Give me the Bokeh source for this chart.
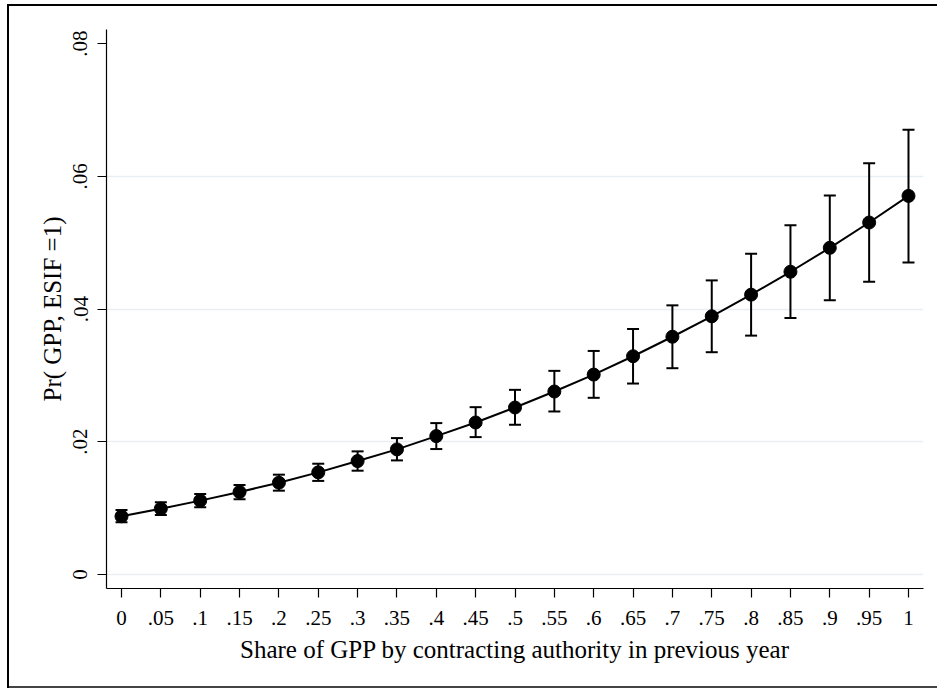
from bokeh.plotting import figure
from bokeh.models import Range1d, FixedTicker, ColumnDataSource, Whisker, TeeHead
from bokeh.embed import file_html
from bokeh.resources import INLINE

# ---- data ----
share = [0, .05, .1, .15, .2, .25, .3, .35, .4, .45, .5,
         .55, .6, .65, .7, .75, .8, .85, .9, .95, 1]
margin = [0.00877, 0.00992, 0.01113, 0.01243, 0.01383, 0.01539, 0.01709,
          0.01885, 0.02085, 0.02290, 0.02516, 0.02757, 0.03012, 0.03288,
          0.03582, 0.03890, 0.04216, 0.04561, 0.04922, 0.05303, 0.05704]
ci_low = [0.00787, 0.00897, 0.01012, 0.01133, 0.01263, 0.01410, 0.01564,
          0.01719, 0.01890, 0.02070, 0.02256, 0.02456, 0.02662, 0.02877,
          0.03108, 0.03349, 0.03599, 0.03865, 0.04131, 0.04410, 0.04702]
ci_high = [0.00973, 0.01088, 0.01213, 0.01348, 0.01504, 0.01669, 0.01855,
           0.02055, 0.02281, 0.02521, 0.02782, 0.03068, 0.03368, 0.03699,
           0.04055, 0.04431, 0.04832, 0.05263, 0.05710, 0.06195, 0.06702]

x_ticks = [0, .05, .1, .15, .2, .25, .3, .35, .4, .45, .5,
           .55, .6, .65, .7, .75, .8, .85, .9, .95, 1]
x_tick_labels = ["0", ".05", ".1", ".15", ".2", ".25", ".3", ".35", ".4", ".45", ".5",
                 ".55", ".6", ".65", ".7", ".75", ".8", ".85", ".9", ".95", "1"]
y_ticks = [0, .02, .04, .06, .08]
y_tick_labels = ["0", ".02", ".04", ".06", ".08"]
y_grid = [0, .02, .04, .06]

x_title = "Share of GPP by contracting authority in previous year"
y_title = "Pr( GPP, ESIF =1)"

FONT = "Liberation Serif"

src = ColumnDataSource(dict(x=share, y=margin, lo=ci_low, hi=ci_high))

frame_box = ("inset 7px 4px 0 0 #ffffff, inset 9px 6px 0 0 #000000, "
             "inset 0 -2px 0 0 #444444")

p = figure(width=937, height=688, output_backend="svg", toolbar_location=None,
           x_range=Range1d(-0.01906, 1.01906), y_range=Range1d(-0.00211, 0.08211),
           min_border_left=106, min_border_right=14, min_border_top=29, min_border_bottom=100,
           styles={"box-shadow": frame_box})
p.border_fill_color = None
p.background_fill_color = "white"
p.outline_line_color = None

# grid
p.xgrid.visible = False
p.ygrid.ticker = FixedTicker(ticks=y_grid)
p.ygrid.grid_line_color = "#e7eff2"
p.ygrid.grid_line_width = 1.5

# axes
for ax in (p.xaxis[0], p.yaxis[0]):
    ax.axis_line_color = "black"
    ax.axis_line_width = 1.2
    ax.major_tick_line_color = "black"
    ax.major_tick_line_width = 1.2
    ax.major_tick_out = 9
    ax.major_tick_in = 0
    ax.minor_tick_line_color = None
    ax.major_label_text_font = FONT
    ax.major_label_text_font_size = "21px"
    ax.major_label_text_color = "black"
    ax.axis_label_text_font = FONT
    ax.axis_label_text_font_size = "25px"
    ax.axis_label_text_font_style = "normal"
    ax.axis_label_text_color = "black"

p.xaxis.ticker = FixedTicker(ticks=x_ticks)
p.xaxis.major_label_overrides = dict(zip(x_ticks, x_tick_labels))
p.xaxis.major_label_standoff = 13
p.xaxis.axis_label = x_title
p.xaxis.axis_label_standoff = 8

p.yaxis.ticker = FixedTicker(ticks=y_ticks)
p.yaxis.major_label_overrides = dict(zip(y_ticks, y_tick_labels))
p.yaxis.major_label_orientation = "vertical"
p.yaxis.major_label_standoff = 10
p.yaxis.axis_label = y_title
p.yaxis.axis_label_standoff = 5

# confidence intervals
w = Whisker(source=src, base="x", upper="hi", lower="lo",
            line_color="black", line_width=2,
            upper_head=TeeHead(size=12, line_color="black", line_width=2),
            lower_head=TeeHead(size=12, line_color="black", line_width=2))
p.add_layout(w)

p.line("x", "y", source=src, line_color="black", line_width=2)
p.scatter("x", "y", source=src, size=13, fill_color="black", line_color="black")

open("out.html", "w").write(file_html(p, INLINE))
